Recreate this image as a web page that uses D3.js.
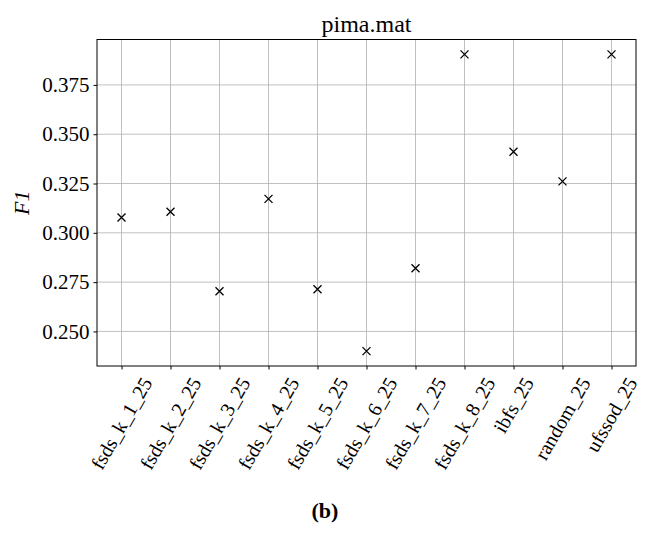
<!DOCTYPE html>
<html>
<head>
<meta charset="utf-8">
<script src="https://cdn.jsdelivr.net/npm/d3@7"></script>
<style>
  html, body { margin: 0; padding: 0; background: #fff; }
  svg text { fill: #000; }
</style>
</head>
<body>
<svg id="chart" width="649" height="535"></svg>
<script>
// Feature-selection methods and their F1 scores on pima.mat
const methods = ["fsds_k_1_25", "fsds_k_2_25", "fsds_k_3_25", "fsds_k_4_25", "fsds_k_5_25",
                 "fsds_k_6_25", "fsds_k_7_25", "fsds_k_8_25", "ibfs_25", "random_25", "ufssod_25"];
const f1Scores = [0.3078, 0.3107, 0.2704, 0.3172, 0.2714, 0.2400, 0.2820, 0.3905, 0.3411, 0.3261, 0.3905];
const yTicks = [0.250, 0.275, 0.300, 0.325, 0.350, 0.375];
const chartTitle = "pima.mat";
const yLabel = "F1";
const panelLabel = "(b)";

const FONT = "'Liberation Serif', serif";
const svg = d3.select("#chart");
const margin = { left: 97, right: 649 - 636, top: 39.5, bottom: 535 - 366 };
const W = 649, H = 535;
const plotW = W - margin.left - margin.right;
const plotH = H - margin.top - margin.bottom;

// index scale padded by half a step on each side
const x = d3.scaleLinear().domain([-0.5, methods.length - 0.5]).range([margin.left, margin.left + plotW]);
const yMin = d3.min(f1Scores), yMax = d3.max(f1Scores), pad = (yMax - yMin) * 0.05;
const y = d3.scaleLinear().domain([yMin - pad, yMax + pad]).range([margin.top + plotH, margin.top]);

// grid
const grid = svg.append("g").attr("stroke", "#b0b0b0").attr("stroke-width", 0.8);
grid.selectAll("line.v").data(methods.map((d, i) => i)).join("line")
  .attr("x1", d => x(d)).attr("x2", d => x(d))
  .attr("y1", margin.top).attr("y2", margin.top + plotH);
grid.selectAll("line.h").data(yTicks).join("line")
  .attr("x1", margin.left).attr("x2", margin.left + plotW)
  .attr("y1", d => y(d)).attr("y2", d => y(d));

// markers
const s = 4;
const marks = svg.append("g").attr("stroke", "#000").attr("stroke-width", 1.3);
f1Scores.forEach((v, i) => {
  const cx = x(i), cy = y(v);
  marks.append("path").attr("d", `M${cx - s},${cy - s}L${cx + s},${cy + s}M${cx - s},${cy + s}L${cx + s},${cy - s}`);
});

// frame
svg.append("rect").attr("x", margin.left).attr("y", margin.top)
  .attr("width", plotW).attr("height", plotH)
  .attr("fill", "none").attr("stroke", "#000").attr("stroke-width", 1);

// y axis
const yAxis = d3.axisLeft(y).tickValues(yTicks).tickFormat(d3.format(".3f")).tickSize(3.5).tickPadding(4);
const gy = svg.append("g").attr("transform", `translate(${margin.left},0)`).call(yAxis)
  .attr("font-family", FONT).attr("font-size", 21);
gy.select(".domain").remove();
gy.selectAll("line").attr("stroke", "#000").attr("stroke-width", 1);

// x axis ticks
const xAxis = d3.axisBottom(x).tickValues(methods.map((d, i) => i)).tickFormat("").tickSize(3.5);
const gx = svg.append("g").attr("transform", `translate(0,${margin.top + plotH})`).call(xAxis);
gx.select(".domain").remove();
gx.selectAll("line").attr("stroke", "#000").attr("stroke-width", 1);

// rotated x labels, centred under each tick
const labelTop = margin.top + plotH + 3.5 + 4;
methods.forEach((m, i) => {
  const g = svg.append("g").attr("transform", `translate(${x(i)},0)`);
  const inner = g.append("g");
  inner.append("text").attr("font-size", 20).attr("font-family", FONT).attr("text-anchor", "end")
    .attr("transform", "rotate(-60)").text(m);
  const bb = inner.node().getBBox();
  inner.attr("transform", `translate(${-(bb.x + bb.width / 2)},${labelTop - bb.y})`);
});

// title
svg.append("text").attr("x", margin.left + plotW / 2).attr("y", 32).attr("font-family", FONT)
  .attr("text-anchor", "middle").attr("font-size", 24).text(chartTitle);

// y label
svg.append("text").attr("transform", `translate(29,${margin.top + plotH / 2}) rotate(-90)`)
  .attr("font-family", FONT)
  .attr("text-anchor", "middle").attr("font-size", 22).attr("font-style", "italic").text(yLabel);

// panel label
svg.append("text").attr("x", 325).attr("y", 518).attr("text-anchor", "middle").attr("font-family", FONT)
  .attr("font-size", 22).attr("font-weight", "bold").text(panelLabel);
</script>
</body>
</html>
